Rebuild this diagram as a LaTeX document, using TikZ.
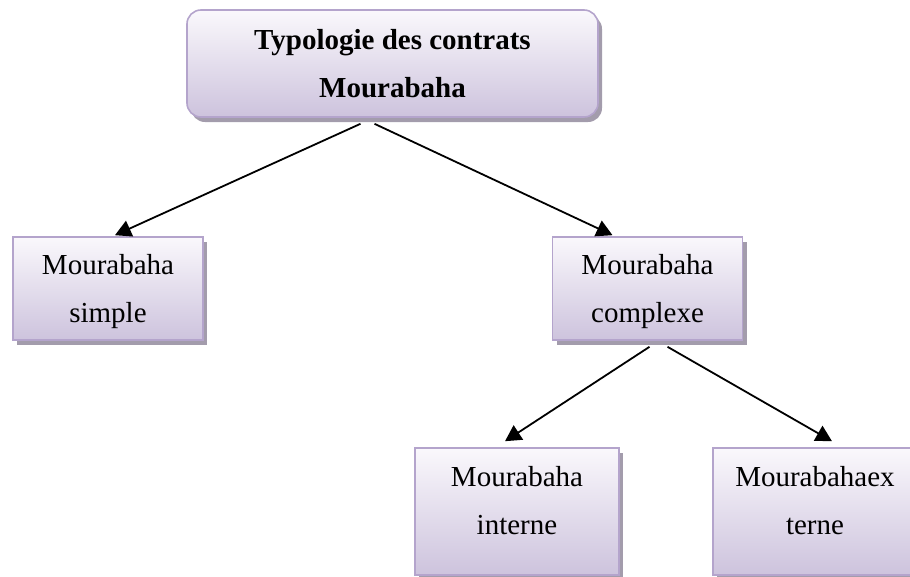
\documentclass[tikz,border=0pt]{standalone}
\usepackage{fontspec}
\setmainfont{Liberation Serif}
\usepackage{xcolor}
\usepackage{tikz}
\usetikzlibrary{
  arrows.meta,
  shadows
}

\definecolor{boxline}{RGB}{180,164,204}
\definecolor{boxtop}{RGB}{250,248,252}
\definecolor{boxbottom}{RGB}{205,195,221}
\definecolor{boxshadow}{RGB}{163,156,172}

\begin{document}
\begin{tikzpicture}[x=1pt, y=1pt,
    every node/.style={inner sep=0pt, align=center, font=\fontsize{29}{48}\selectfont},
    field/.style={draw=boxline, line width=1.6pt, top color=boxtop, bottom color=boxbottom,
      drop shadow={shadow xshift=4pt, shadow yshift=-5pt, fill=boxshadow, opacity=1}},
    leaf/.style={field, minimum width=190pt, minimum height=103pt},
    arr/.style={line width=1.8pt, -{Triangle[length=16pt, width=17pt]}}]
\clip (0,0) rectangle (910,-576);
\useasboundingbox (0,0) rectangle (910,-576);

\node [field, rounded corners=14pt, minimum width=411pt, minimum height=107pt] (top) at (392.5,-63.5)
  {\bfseries Typologie des contrats\\\bfseries Mourabaha};
\node [leaf, label={[yshift=-3pt]center:{Mourabaha\\simple}}] (simple) at (108,-288.5) {};
\node [leaf, label={[yshift=-3pt]center:{Mourabaha\\complexe}}] (complexe) at (647.5,-288.5) {};
\node [leaf, minimum width=204pt, minimum height=127pt,
  label={[yshift=11pt]center:{Mourabaha\\interne}}] (interne) at (517,-511.5) {};
\node [leaf, minimum width=204pt, minimum height=127pt,
  label={[yshift=11pt]center:{Mourabahaex\\terne}}] (externe) at (815,-511.5) {};

\draw [arr] ([xshift=-32pt, yshift=-6pt]top.south) -- ([xshift=7pt, yshift=1pt]simple.north);
\draw [arr] ([xshift=-18pt, yshift=-6pt]top.south) -- ([xshift=-35pt, yshift=1pt]complexe.north);
\draw [arr] ([xshift=2pt, yshift=-6pt]complexe.south) -- ([xshift=-12pt, yshift=6pt]interne.north);
\draw [arr] ([xshift=20pt, yshift=-6pt]complexe.south) -- ([xshift=17pt, yshift=6pt]externe.north);
\end{tikzpicture}
\end{document}
